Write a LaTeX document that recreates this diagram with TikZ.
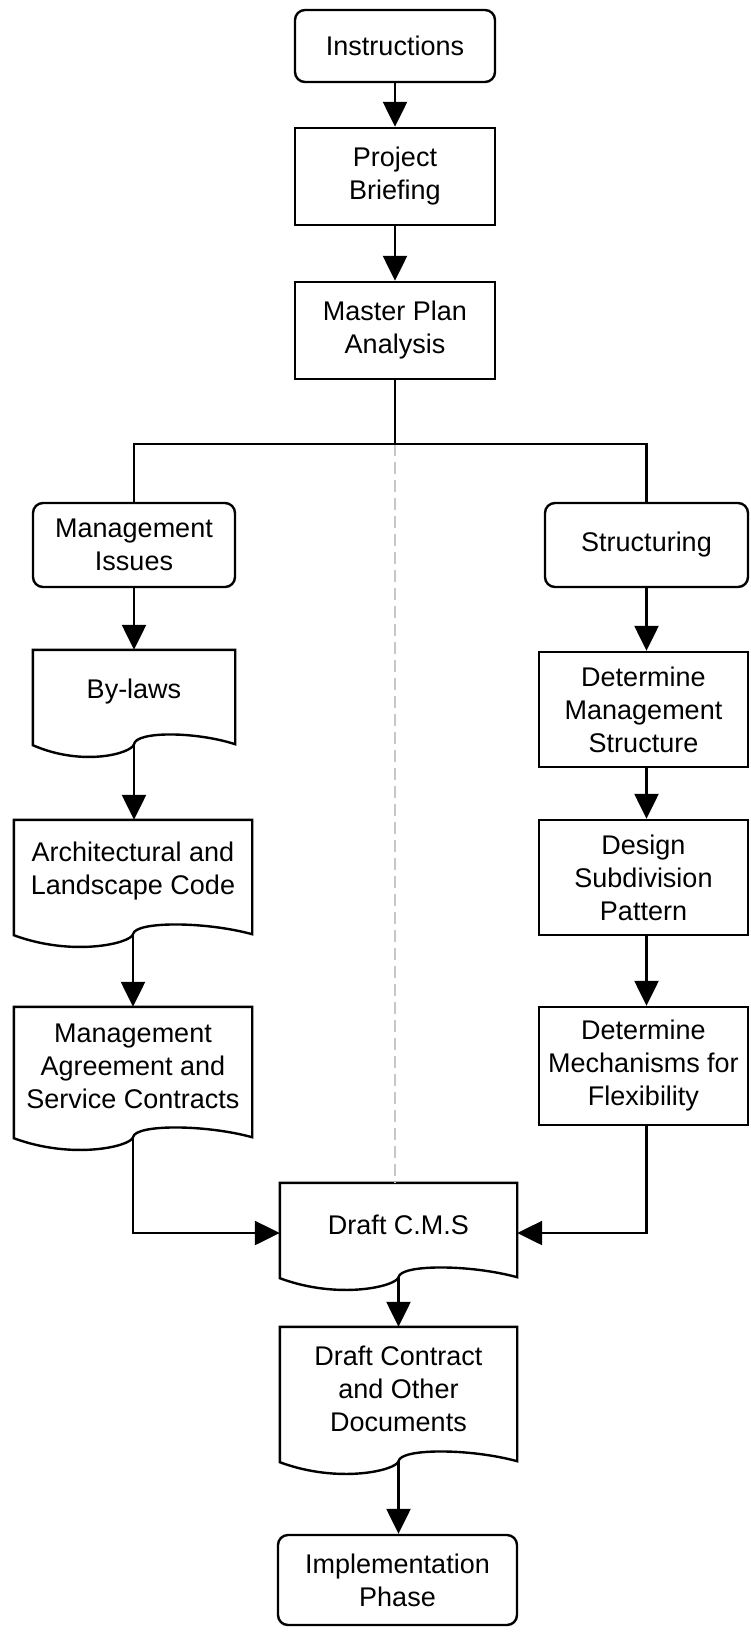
\documentclass[tikz,border=0pt]{standalone}
\usepackage{fontspec}
\setmainfont{Liberation Sans}
\usetikzlibrary{arrows.meta,calc}

\tikzset{
  lw/.style={line width=2.4pt},
  txt/.style={align=center, inner sep=2pt, font=\fontsize{27}{33}\selectfont},
  termbox/.style={txt, lw, draw, rounded corners=10pt},
  procbox/.style={txt, lw, draw},
  docbox/.style={txt, draw=none},
  flow/.style={lw, -{Triangle[length=25pt,width=24pt]}},
  link/.style={lw},
  guide/.style={line width=1.4pt, draw=gray!45, dash pattern=on 12pt off 6pt},
}

% outline of a document symbol: flat top, wavy bottom below the node
% (a sag on the left half, a hump on the right half)
\newcommand\docoutline[1]{%
  \draw[lw] (#1.north west) -- (#1.north east) -- ($(#1.south east)+(0,-11)$)
    .. controls ($(#1.south west)!0.8!(#1.south east)+(0,2)$)
            and ($(#1.south)+(2,2)$) .. ($(#1.south)+(0,-11)$)
    .. controls ($(#1.south)+(-2,-20)$)
            and ($(#1.south west)!0.25!(#1.south east)+(0,-34)$) .. ($(#1.south west)+(0,-12)$)
    -- cycle;}

\begin{document}
\begin{tikzpicture}[x=1pt,y=1pt]
\useasboundingbox (0,0) rectangle (750,-1636);

% central column
\node[termbox, minimum width=200pt, minimum height=72pt] (ins) at (395,-46) {Instructions};
\node[procbox, minimum width=200pt, minimum height=97pt] (pb) at (395,-176.5) {Project\\Briefing};
\node[procbox, minimum width=200pt, minimum height=97pt] (mp) at (395,-330.5) {Master Plan\\Analysis};

% left column
\node[termbox, minimum width=202pt, minimum height=84pt] (mi) at (134,-545) {Management\\Issues};
\node[docbox, minimum width=202pt, minimum height=83pt] (bl) at (134,-691.5) {By-laws};
\node[docbox, minimum width=238pt, minimum height=103pt] (ar) at (133,-871.5) {Architectural and\\Landscape Code};
\node[docbox, minimum width=238pt, minimum height=119pt] (ma) at (133,-1066.5) {Management\\Agreement and\\Service Contracts};

% right column
\node[termbox, minimum width=203pt, minimum height=84pt] (st) at (646.5,-545) {Structuring};
\node[procbox, minimum width=209pt, minimum height=115pt] (dms) at (643.5,-709.5) {Determine\\Management\\Structure};
\node[procbox, minimum width=209pt, minimum height=115pt] (dsp) at (643.5,-877.5) {Design\\Subdivision\\Pattern};
\node[procbox, minimum width=209pt, minimum height=118pt] (dmf) at (643.5,-1066) {Determine\\Mechanisms for\\Flexibility};

% lower central column
\node[docbox, minimum width=237pt, minimum height=83pt] (cms) at (398.5,-1224.5) {Draft C.M.S};
\node[docbox, minimum width=237pt, minimum height=123pt] (dco) at (398.5,-1388.5) {Draft Contract\\and Other\\Documents};
\node[termbox, minimum width=239pt, minimum height=90pt] (imp) at (397.5,-1580) {Implementation\\Phase};

\docoutline{bl}
\docoutline{ar}
\docoutline{ma}
\docoutline{cms}
\docoutline{dco}

% exits from the wavy bottoms
\coordinate (bl-out) at ($(bl.south)+(0,-11)$);
\coordinate (ar-out) at ($(ar.south)+(0,-11)$);
\coordinate (ma-out) at ($(ma.south)+(0,-11)$);
\coordinate (cms-out) at ($(cms.south)+(0,-11)$);
\coordinate (dco-out) at ($(dco.south)+(0,-11)$);

% split below the master plan
\coordinate (jc) at ($(mp.south)+(0,-64)$);
\draw[guide] (jc) -- (jc |- cms.north);
\draw[link] (mp.south) -- (jc);
\draw[link] (mi.north) |- (jc) -| (st.north);

% top chain
\draw[flow] (ins.south) -- (pb.north);
\draw[flow] (pb.south) -- (mp.north);

% left chain
\draw[flow] (mi.south) -- (mi.south |- bl.north);
\draw[flow] (bl-out) -- (bl-out |- ar.north);
\draw[flow] (ar-out) -- (ar-out |- ma.north);
\draw[flow] (ma-out) |- ($(cms.west)+(0,-8.5)$);

% right chain
\draw[flow] (st.south) -- (st.south |- dms.north);
\draw[flow] (st.south |- dms.south) -- (st.south |- dsp.north);
\draw[flow] (st.south |- dsp.south) -- (st.south |- dmf.north);
\draw[flow] (st.south |- dmf.south) |- ($(cms.east)+(0,-8.5)$);

% bottom chain
\draw[flow] (cms-out) -- (cms-out |- dco.north);
\draw[flow] (dco-out) -- (dco-out |- imp.north);
\end{tikzpicture}
\end{document}
